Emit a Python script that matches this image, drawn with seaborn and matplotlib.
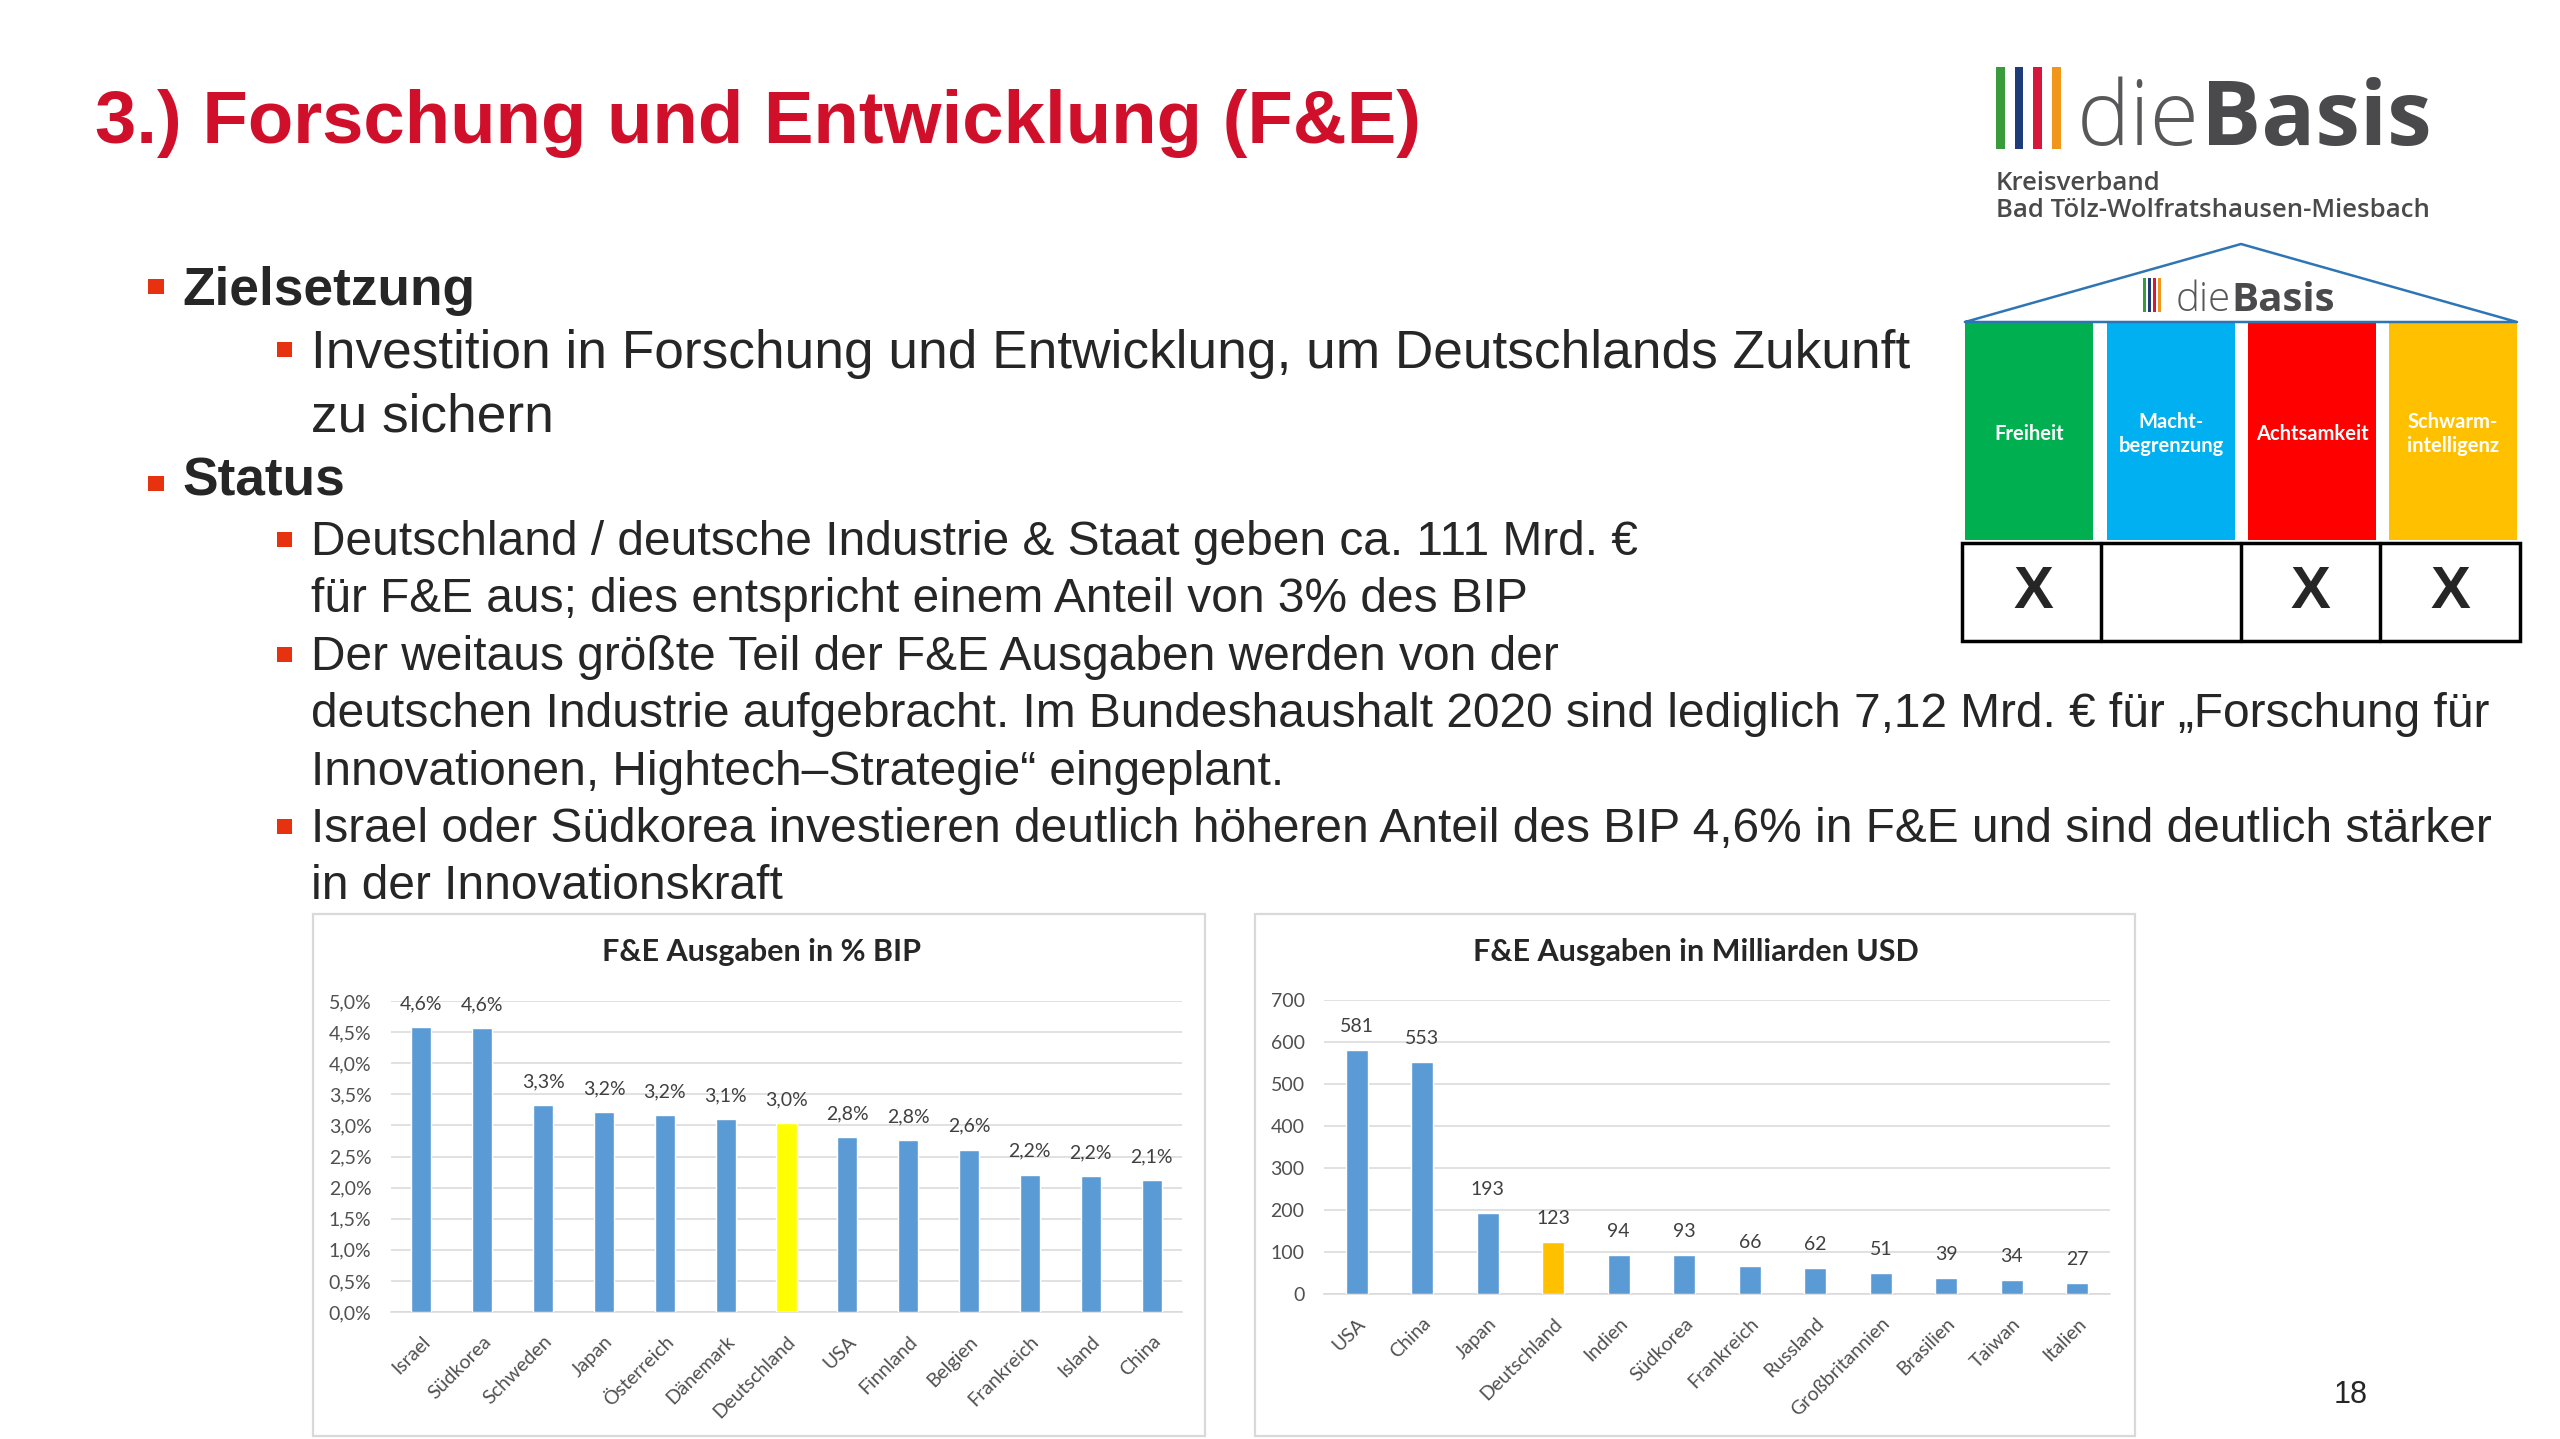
import matplotlib
matplotlib.use('Agg')
import matplotlib.pyplot as plt
from matplotlib.patches import Rectangle
import seaborn as sns
import numpy as np

# ================================================
# F&E slide - dieBasis KV Bad Toelz
# ================================================

# --- chart data -------------------------------------------------
bip_countries = ['Israel', 'Südkorea', 'Schweden', 'Japan', 'Österreich', 'Dänemark',
                 'Deutschland', 'USA', 'Finnland', 'Belgien', 'Frankreich', 'Island', 'China']
bip_share = [4.58, 4.56, 3.32, 3.21, 3.16, 3.10, 3.04, 2.81, 2.76, 2.61, 2.21, 2.18, 2.12]

usd_countries = ['USA', 'China', 'Japan', 'Deutschland', 'Indien', 'Südkorea', 'Frankreich',
                 'Russland', 'Großbritannien', 'Brasilien', 'Taiwan', 'Italien']
usd_billion = [581, 553, 193, 123, 94, 93, 66, 62, 51, 39, 34, 27]

# --- slide text -------------------------------------------------
title = '3.) Forschung und Entwicklung (F&E)'
level1 = ['Zielsetzung', 'Status']
ziel_lines = ['Investition in Forschung und Entwicklung, um Deutschlands Zukunft',
              'zu sichern']
status_lines = ['Deutschland / deutsche Industrie & Staat geben ca. 111 Mrd. €',
                'für F&E aus; dies entspricht einem Anteil von 3% des BIP',
                'Der weitaus größte Teil der F&E Ausgaben werden von der',
                'deutschen Industrie aufgebracht. Im Bundeshaushalt 2020 sind lediglich 7,12 Mrd. € für „Forschung für',
                'Innovationen, Hightech–Strategie“ eingeplant.',
                'Israel oder Südkorea investieren deutlich höheren Anteil des BIP 4,6% in F&E und sind deutlich stärker',
                'in der Innovationskraft']
status_bullets = [0, 2, 5]   # lines that start a new bullet
pillars = ['Freiheit', 'Macht-\nbegrenzung', 'Achtsamkeit', 'Schwarm-\nintelligenz']
pillar_colors = ['#00b050', '#00b0f0', '#ff0000', '#ffc000']
pillar_marks = ['X', '', 'X', 'X']
logo_colors = ['#3a9b3a', '#1d3c78', '#d6163a', '#f2961b']

sns.set_style('white')
plt.rcParams['font.family'] = ['Liberation Sans', 'DejaVu Sans']

W, H = 2560, 1439
fig = plt.figure(figsize=(W / 100, H / 100), dpi=100)
fig.patch.set_facecolor('white')
renderer = fig.canvas.get_renderer()

bg = fig.add_axes([0, 0, 1, 1])
bg.set_xlim(0, W)
bg.set_ylim(H, 0)
bg.axis('off')


def px_axes(left, top, right, bottom):
    return fig.add_axes([left / W, 1 - bottom / H, (right - left) / W, (bottom - top) / H])


RED_BULLET = '#e6320e'
LOGO_FONT = ['Open Sans', 'DejaVu Sans']
CHART_FONT = ['Lato', 'DejaVu Sans']

# title
bg.text(95, 143, title, fontsize=53.6, fontweight='bold', color='#d0102b', va='baseline')

# bullets level 1
for txt, base, cy in zip(level1, [305, 495], [286, 483]):
    bg.add_patch(Rectangle((148, cy - 7.5), 16, 15, color=RED_BULLET, lw=0))
    bg.text(182, base, txt, fontsize=38.3, fontweight='bold', va='baseline')

# Zielsetzung lines
for i, (txt, base) in enumerate(zip(ziel_lines, [368, 432])):
    if i == 0:
        bg.add_patch(Rectangle((277, base - 26), 15, 15, color=RED_BULLET, lw=0))
    bg.text(311, base, txt, fontsize=38.3, va='baseline')

# Status lines
for i, txt in enumerate(status_lines):
    base = 555 + i * 57.4
    if i in status_bullets:
        bg.add_patch(Rectangle((277, base - 23), 15, 15, color=RED_BULLET, lw=0))
    bg.text(311, base, txt, fontsize=34.5, va='baseline')

# page number
bg.text(2351, 1403, '18', fontsize=22, ha='center', va='baseline')


def logo_word(x, base, size):
    t = bg.text(x, base, 'die', fontsize=size, family=LOGO_FONT, fontweight='light',
                color='#58585a', va='baseline')
    x_end = t.get_window_extent(renderer=renderer).x1
    bg.text(x_end + size * 0.02, base, 'Basis', fontsize=size, family=LOGO_FONT,
            fontweight='bold', color='#4a4a4c', va='baseline')


# --- logo -------------------------------------------------------
for k, c in enumerate(logo_colors):
    bg.add_patch(Rectangle((1996 + k * 18.7, 67), 8.5, 82, color=c, lw=0))
logo_word(2077, 145, 64.5)
bg.text(1996, 190, 'Kreisverband', fontsize=18.5, family=LOGO_FONT,
        fontweight='semibold', color='#4a4a4a', va='baseline')
bg.text(1996, 217, 'Bad Tölz-Wolfratshausen-Miesbach', fontsize=18.5,
        family=LOGO_FONT, fontweight='semibold', color='#4a4a4a', va='baseline')

# --- house ------------------------------------------------------
bg.plot([1965, 2241, 2517, 1965], [322, 244, 322, 322], color='#2e75b6', lw=1.8)
for k, c in enumerate(logo_colors):
    bg.add_patch(Rectangle((2143 + k * 5, 278), 3, 34, color=c, lw=0))
logo_word(2176, 311, 29)

pillar_x = [1965, 2107, 2248, 2389]
for x0, name, c in zip(pillar_x, pillars, pillar_colors):
    bg.add_patch(Rectangle((x0, 323), 128, 217, color=c, lw=0))
    bg.text(x0 + 64, 434, name, fontsize=14.5, family=CHART_FONT,
            fontweight='bold', color='white', ha='center', va='center', linespacing=1.25)

bg.add_patch(Rectangle((1962, 543), 558, 98, fill=False, ec='black', lw=2.5))
for xv in [2101, 2241, 2380]:
    bg.plot([xv, xv], [543, 641], color='black', lw=2.5)
for xc, m in zip([2033, 2171, 2310, 2450], pillar_marks):
    bg.text(xc, 593, m, fontsize=43, fontweight='bold', ha='center', va='center')

# --- chart frames -----------------------------------------------
bg.add_patch(Rectangle((313, 914), 892, 522, fill=False, ec='#d9d9d9', lw=1.6))
bg.add_patch(Rectangle((1255, 914), 880, 522, fill=False, ec='#d9d9d9', lw=1.6))


def draw_chart(ax, cats, vals, labels, hl_color, ymax, ystep, tick_fmt, title_txt, title_x):
    colors = [hl_color if c == 'Deutschland' else '#5b9bd5' for c in cats]
    sns.barplot(x=cats, y=vals, hue=cats, palette=colors, legend=False,
                width=0.33, saturation=1, ax=ax, zorder=3)
    ax.set_xlim(-0.5, len(cats) - 0.5)
    ax.set_ylim(0, ymax)
    ticks = np.arange(0, ymax + ystep / 2, ystep)
    ax.set_yticks(ticks)
    ax.set_yticklabels([tick_fmt(t) for t in ticks], family=CHART_FONT, fontsize=14, color='#505050')
    ax.set_xticks(range(len(cats)))
    ax.set_xticklabels(cats, family=CHART_FONT, fontsize=14, color='#505050',
                       rotation=45, ha='right', va='top', rotation_mode='anchor')
    ax.tick_params(axis='y', length=0, pad=14)
    ax.tick_params(axis='x', length=0, pad=15)
    ax.yaxis.grid(True, color='#d9d9d9', lw=1.1)
    ax.xaxis.grid(False)
    ax.set_axisbelow(True)
    for s in ['top', 'right', 'left']:
        ax.spines[s].set_visible(False)
    ax.spines['bottom'].set_color('#d9d9d9')
    ax.spines['bottom'].set_linewidth(1.1)
    ax.set_xlabel('')
    ax.set_ylabel('')
    ax.patch.set_alpha(0)
    for i, (v, lab) in enumerate(zip(vals, labels)):
        ax.annotate(lab, (i, v), xytext=(0, 18), textcoords='offset pixels',
                    ha='center', va='baseline', family=CHART_FONT, fontsize=14, color='#404040')
    bg.text(title_x, 961, title_txt, family=CHART_FONT, fontsize=22, fontweight='bold',
            color='#262626', ha='center', va='baseline')


ax1 = px_axes(391, 1001, 1182, 1312)
draw_chart(ax1, bip_countries, bip_share,
           [f'{v:.1f}%'.replace('.', ',') for v in bip_share],
           '#ffff00', 5.0, 0.5, lambda t: f'{t:.1f}%'.replace('.', ','),
           'F&E Ausgaben in % BIP', 762)

ax2 = px_axes(1324, 1000, 2110, 1294)
draw_chart(ax2, usd_countries, usd_billion, [str(v) for v in usd_billion],
           '#ffc000', 700, 100, lambda t: f'{t:.0f}',
           'F&E Ausgaben in Milliarden USD', 1696)

fig.savefig('out.png', dpi=100, facecolor='white')
